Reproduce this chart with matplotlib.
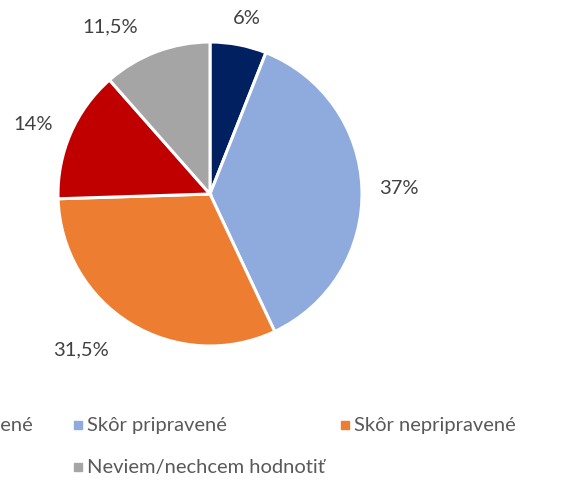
import numpy as np
import matplotlib
matplotlib.use("Agg")
import matplotlib.pyplot as plt
from matplotlib.patches import Rectangle

categories = ["Pripravené", "Skôr pripravené", "Skôr nepripravené", "Nepripravené", "Neviem/nechcem hodnotiť"]
values = [6, 37, 31.5, 14, 11.5]
value_labels = ["6%", "37%", "31,5%", "14%", "11,5%"]
colors = ["#002060", "#8FAADC", "#ED7D31", "#C00000", "#A5A5A5"]
label_dist = [1.18, 1.24, 1.33, 1.25, 1.28]
label_angle_shift = [-1, 0, -8, 2, 10]

W, H = 564, 482
fig = plt.figure(figsize=(W / 100, H / 100), dpi=100)
plt.rcParams['font.family'] = ['Lato', 'DejaVu Sans']
FS = 14.5

cx, cy, r = 210, 194, 152
ax = fig.add_axes([(cx - r) / W, (H - cy - r) / H, 2 * r / W, 2 * r / H])
wedges, _ = ax.pie(values, colors=colors, startangle=90, counterclock=False,
                   radius=1, wedgeprops=dict(edgecolor="white", linewidth=2.2))
ax.set_xlim(-1, 1)
ax.set_ylim(-1, 1)
ax.axis("off")

for w, lab, d, s in zip(wedges, value_labels, label_dist, label_angle_shift):
    ang = np.deg2rad((w.theta1 + w.theta2) / 2 + s)
    ax.text(d * np.cos(ang), d * np.sin(ang), lab, ha="center", va="center",
            fontsize=FS, color="#404040", clip_on=False)

# legend entries (pixel positions from top-left); first column is cut off by the edge
leg_x = [-76, 74, 341, -230, 74]
leg_y = [425, 425, 425, 467, 467]
for cat, col, x, y in zip(categories, colors, leg_x, leg_y):
    fig.patches.append(Rectangle((x / W, (H - y - 4) / H), 8 / W, 8 / H,
                                 transform=fig.transFigure, color=col))
    fig.text((x + 13) / W, (H - y) / H, cat, ha="left", va="center",
             fontsize=FS, color="#595959")

fig.savefig("out.png", dpi=100)
